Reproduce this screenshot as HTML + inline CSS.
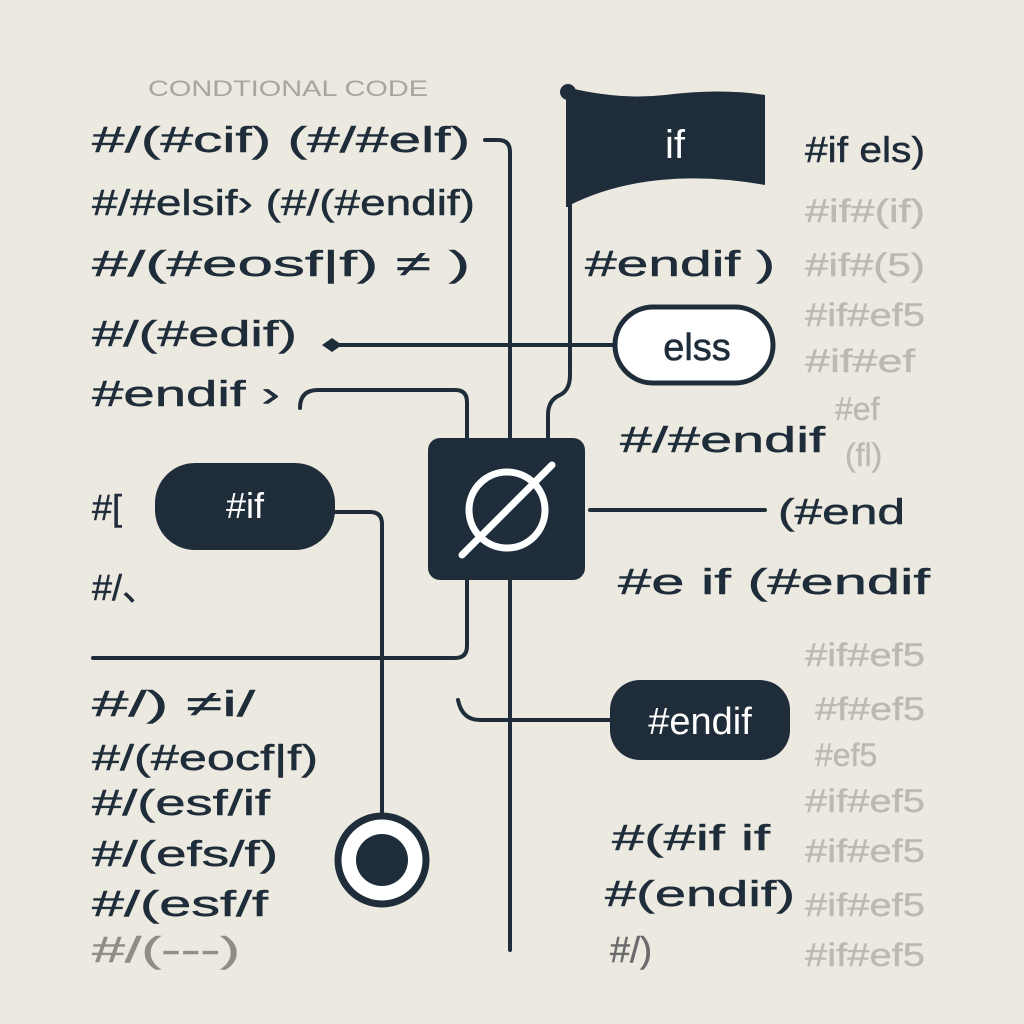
<!DOCTYPE html>
<html><head><meta charset="utf-8"><style>
html,body{margin:0;padding:0;background:#ece9e0;}
svg{display:block}
text{font-family:"Liberation Sans","DejaVu Sans",sans-serif;}
</style></head><body>
<svg width="1024" height="1024" viewBox="0 0 1024 1024" xmlns="http://www.w3.org/2000/svg">
<rect width="1024" height="1024" fill="#ece9e0"/>
<g fill="none" stroke="#1f2d3a" stroke-width="4" stroke-linecap="round">
<path d="M485 140 H498 Q510 140 510 152 V440"/>
<path d="M510 580 V950"/>
<path d="M300 408 Q300 390 318 390 H455 Q467 390 467 402 V440"/>
<path d="M548 440 V415 Q548 400 560 395 Q570 390 570 375 V200"/>
<path d="M340 345 H613"/>
<path d="M335 512 H370 Q382 512 382 524 V815"/>
<path d="M93 658 H455 Q467 658 467 646 V580"/>
<path d="M590 510 H765"/>
<path d="M458 700 Q462 720 480 720 H612"/>
</g>
<path d="M322 345 L332 338 L342 345 L332 352Z" fill="#1f2d3a"/>
<circle cx="568" cy="92" r="8" fill="#1f2d3a"/>
<rect x="566" y="92" width="6" height="115" fill="#1f2d3a"/>
<path d="M570 88 Q620 100 665 95 Q720 88 765 95 V185 Q710 175 660 180 Q610 185 570 205Z" fill="#1f2d3a"/>
<text x="675" y="158" font-size="40" fill="#fff" text-anchor="middle">if</text>
<rect x="615" y="307" width="158" height="76" rx="38" fill="#fff" stroke="#1f2d3a" stroke-width="5"/>
<text x="697" y="360" font-size="38" fill="#1f2d3a" stroke="#1f2d3a" stroke-width="0.6" text-anchor="middle">elss</text>
<rect x="428" y="438" width="157" height="142" rx="12" fill="#1f2d3a"/>
<circle cx="507" cy="510" r="38" fill="none" stroke="#fff" stroke-width="7"/>
<line x1="462" y1="555" x2="552" y2="465" stroke="#fff" stroke-width="7" stroke-linecap="round"/>
<rect x="155" y="463" width="180" height="87" rx="40" fill="#1f2d3a"/>
<text x="245" y="518" font-size="36" fill="#fff" text-anchor="middle">#if</text>
<rect x="610" y="680" width="180" height="80" rx="30" fill="#1f2d3a"/>
<text x="700" y="734" font-size="38" fill="#fff" text-anchor="middle">#endif</text>
<circle cx="382" cy="860" r="44" fill="#fff" stroke="#1f2d3a" stroke-width="7"/>
<circle cx="382" cy="860" r="26" fill="#1f2d3a"/>
<text x="148" y="96" font-size="22" fill="#a9a59c" textLength="280" lengthAdjust="spacingAndGlyphs">CONDTIONAL CODE</text>
<g font-size="36" fill="#1f2d3a" stroke="#1f2d3a" stroke-width="0.5">
<text x="92" y="152" textLength="378" lengthAdjust="spacingAndGlyphs">#/(#cif)  (#/#elf)</text>
<text x="92" y="215" textLength="383" lengthAdjust="spacingAndGlyphs">#/#elsif›  (#/(#endif)</text>
<text x="92" y="276" textLength="378" lengthAdjust="spacingAndGlyphs">#/(#eosf|f) ≠       )</text>
<text x="92" y="346" textLength="205" lengthAdjust="spacingAndGlyphs">#/(#edif)</text>
<text x="92" y="406" textLength="188" lengthAdjust="spacingAndGlyphs">#endif ›</text>
<text x="92" y="520">#[</text>
<text x="92" y="600">#/、</text>
<text x="92" y="716" textLength="163" lengthAdjust="spacingAndGlyphs">#/) ≠i/</text>
<text x="92" y="770" textLength="226" lengthAdjust="spacingAndGlyphs">#/(#eocf|f)</text>
<text x="92" y="815" textLength="178" lengthAdjust="spacingAndGlyphs">#/(esf/if</text>
<text x="92" y="866" textLength="186" lengthAdjust="spacingAndGlyphs">#/(efs/f)</text>
<text x="92" y="916" textLength="176" lengthAdjust="spacingAndGlyphs">#/(esf/f</text>
<text x="92" y="962" fill="#8f8d88" stroke="#8f8d88" textLength="148" lengthAdjust="spacingAndGlyphs">#/(---)</text>
<text x="585" y="276" textLength="190" lengthAdjust="spacingAndGlyphs">#endif )</text>
<text x="620" y="452" textLength="205" lengthAdjust="spacingAndGlyphs">#/#endif</text>
<text x="778" y="524" textLength="127" lengthAdjust="spacingAndGlyphs">(#end</text>
<text x="618" y="594" textLength="312" lengthAdjust="spacingAndGlyphs">#e    if (#endif</text>
<text x="612" y="850" textLength="158" lengthAdjust="spacingAndGlyphs">#(#if if</text>
<text x="605" y="906" textLength="190" lengthAdjust="spacingAndGlyphs">#(endif)</text>
<text x="610" y="962" fill="#6b6b6b" stroke="#6b6b6b">#/)</text>
<text x="805" y="162" textLength="120" lengthAdjust="spacingAndGlyphs">#if els)</text>
</g>
<g font-size="32" fill="#bdb9b0" stroke="#bdb9b0" stroke-width="0.4">
<text x="805" y="222" textLength="120" lengthAdjust="spacingAndGlyphs">#if#(if)</text>
<text x="805" y="276" textLength="120" lengthAdjust="spacingAndGlyphs">#if#(5)</text>
<text x="805" y="326" textLength="120" lengthAdjust="spacingAndGlyphs">#if#ef5</text>
<text x="805" y="372" textLength="110" lengthAdjust="spacingAndGlyphs">#if#ef</text>
<text x="835" y="420">#ef</text>
<text x="845" y="466">(fl)</text>
<text x="805" y="666" textLength="120" lengthAdjust="spacingAndGlyphs">#if#ef5</text>
<text x="815" y="720" textLength="110" lengthAdjust="spacingAndGlyphs">#f#ef5</text>
<text x="815" y="766">#ef5</text>
<text x="805" y="812" textLength="120" lengthAdjust="spacingAndGlyphs">#if#ef5</text>
<text x="805" y="862" textLength="120" lengthAdjust="spacingAndGlyphs">#if#ef5</text>
<text x="805" y="916" textLength="120" lengthAdjust="spacingAndGlyphs">#if#ef5</text>
<text x="805" y="966" textLength="120" lengthAdjust="spacingAndGlyphs">#if#ef5</text>
</g>
</svg>
</body></html>
